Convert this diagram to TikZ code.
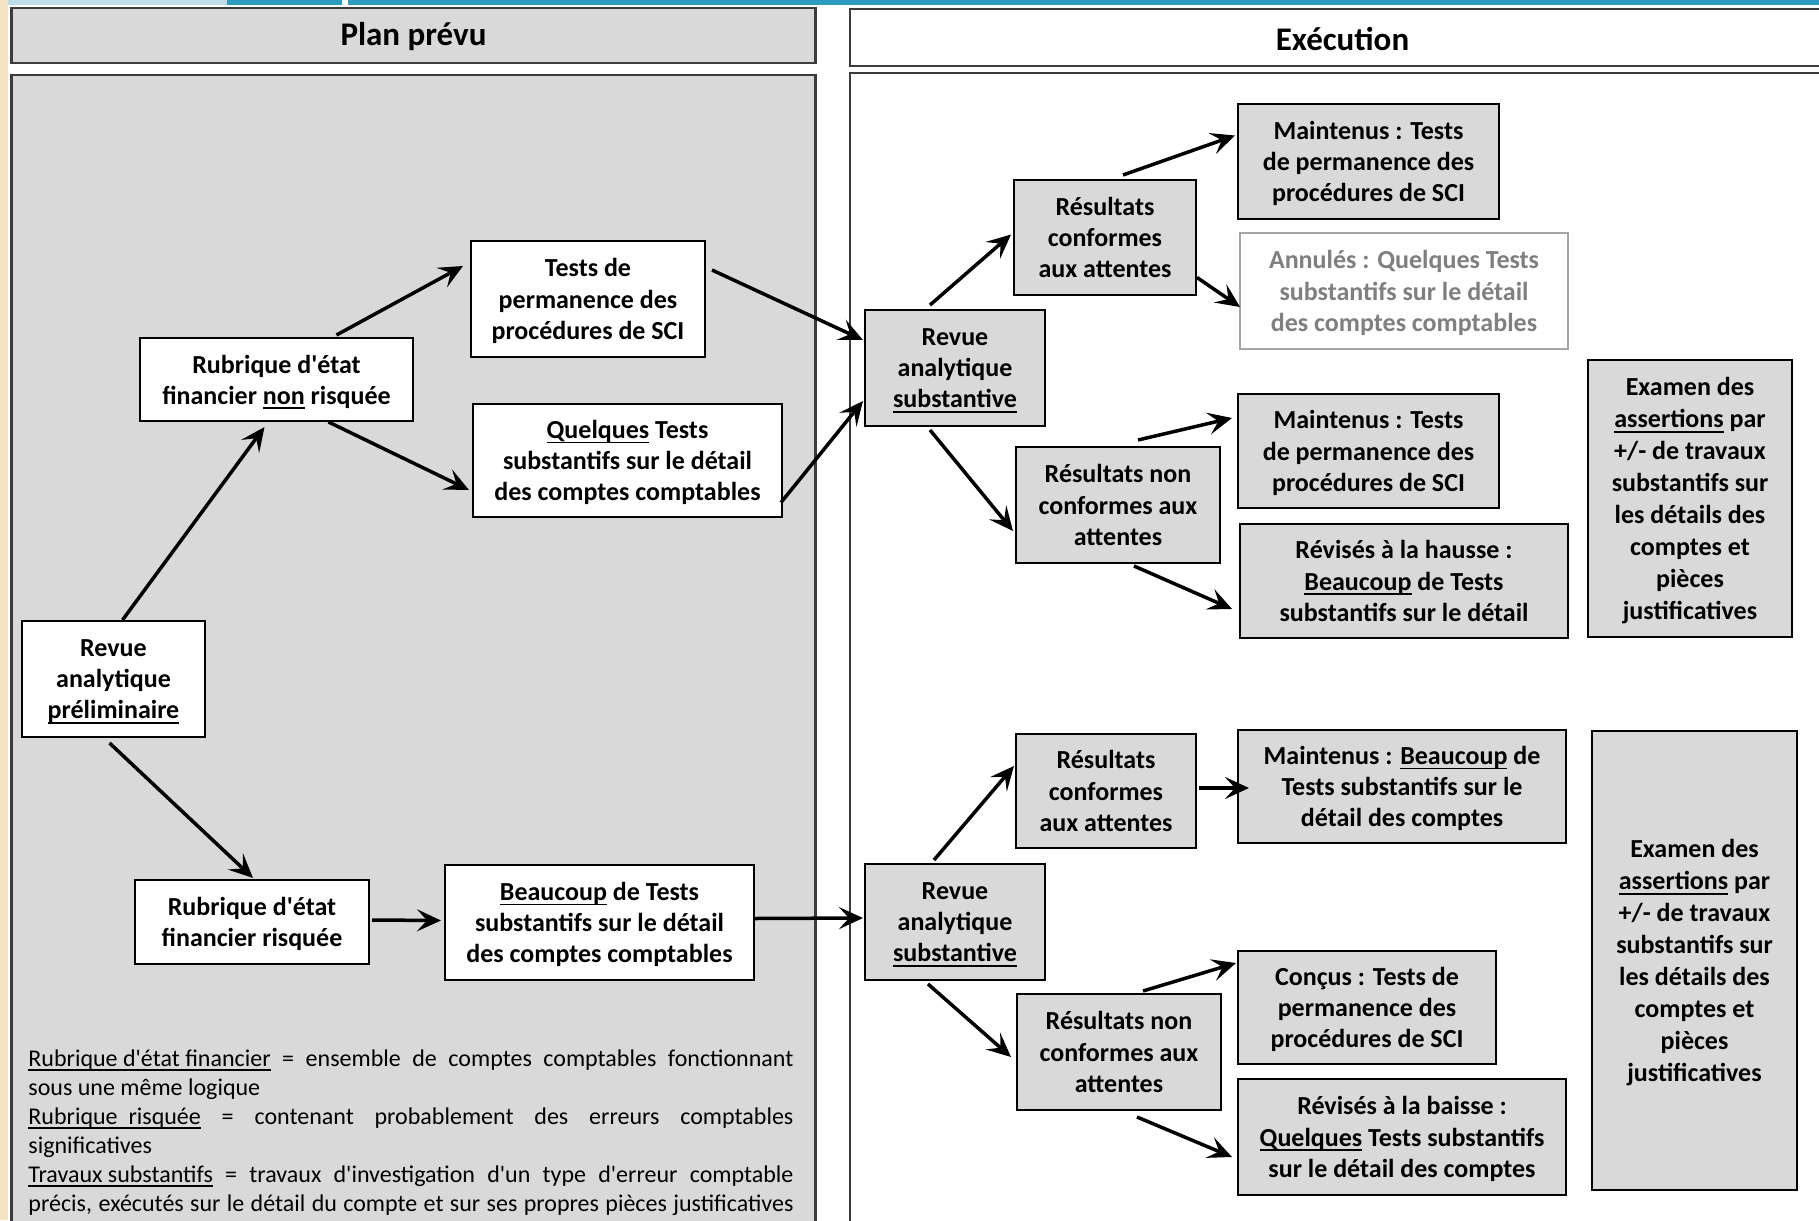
\documentclass[tikz,border=0pt]{standalone}
\usepackage{fontspec}
\setmainfont{Carlito}
\usetikzlibrary{arrows.meta,calc}

\definecolor{boxgrey}{HTML}{D9D9D9}
\definecolor{edgegrey}{HTML}{3C3C3C}
\definecolor{bannerteal}{HTML}{2E9CBF}
\definecolor{bannerblue}{HTML}{BFDCEB}
\definecolor{stripbeige}{HTML}{F3E5C4}
\definecolor{mutedgrey}{HTML}{7F7F7F}
\definecolor{mutededge}{HTML}{A6A6A6}

\newcommand{\apo}{\textquotesingle}
% underline drawn as a rule at a fixed depth below the baseline
\newcommand{\undl}[1]{\leavevmode\setbox0=\hbox{#1}\rlap{\vrule height -1.6pt depth 2.5pt width \wd0}\box0\relax}

\tikzset{
  sz/.style 2 args={minimum width=#1*0.5pt, minimum height=#2*0.5pt},
  box/.style={draw=black, line width=1pt, fill=white, align=center,
    inner sep=0pt, text depth=0pt, font=\fontsize{13}{15.6}\selectfont\bfseries},
  gbox/.style={box, fill=boxgrey},
  tallbox/.style={gbox, font=\fontsize{13}{16}\selectfont\bfseries},
  ghost/.style={box, draw=mutededge, text=mutedgrey},
  panel/.style={draw=edgegrey, line width=1.4pt, inner sep=0pt},
  header/.style={panel, font=\fontsize{16.5}{20}\selectfont\bfseries},
  conn/.style={line width=1.75pt, -{Stealth[length=12pt, width=11pt, inset=5pt]}},
  legend/.style={anchor=north west, inner sep=0pt, text width=382.5pt,
    align=justify, font=\fontsize{12}{14.5}\selectfont},
}

\begin{document}
\begin{tikzpicture}[x=0.5pt, y=-0.5pt]
\useasboundingbox (0,0) rectangle (1819,1220);
\clip (0,0) rectangle (1819,1220);

% page decorations along the top and left edges
\fill[white] (0,0) rectangle (1819,1220);
\fill[bannerblue] (0,0) rectangle (227,5);
\fill[bannerteal] (227,0) rectangle (342,5);
\fill[bannerteal] (348,0) rectangle (1819,5);
\fill[stripbeige] (0,0) rectangle (8,1220);

% column headers and panels
\node[header, fill=boxgrey, sz={804}{55}] (hplan) at (413.5,35.5) {\rule{0pt}{12.5pt}Plan prévu};
\node[header, fill=white, sz={985}{57}] (hexec) at (1342.5,37.5) {\rule{0pt}{13pt}Exécution};
\node[panel, fill=boxgrey, sz={804}{1180}] (pplan) at (413.5,665) {};
\node[panel, fill=white, sz={985}{1180}] (pexec) at (1342.5,663) {};

% planned approach
\node[box, sz={183}{116}] (rap) at (113.5,679) {Revue\\analytique\\\undl{préliminaire}};
\node[box, sz={273}{83}] (rnr) at (276.5,379.5) {Rubrique d\apo état\\financier \undl{non} risquée};
\node[box, sz={234}{116}] (tp) at (588,299) {Tests de\\permanence des\\procédures de SCI};
\node[box, sz={309}{113}] (ql) at (627.5,460.5) {\undl{Quelques} Tests\\substantifs sur le détail\\des comptes comptables};
\node[box, sz={234}{84}] (rr) at (252,922) {Rubrique d\apo état\\financier risquée};
\node[box, sz={309}{115}] (bc) at (599.5,922.5) {\undl{Beaucoup} de Tests\\substantifs sur le détail\\des comptes comptables};

% execution, upper branch
\node[gbox, sz={180}{116}] (ras1) at (955,368) {Revue\\analytique\\\undl{substantive}};
\node[gbox, sz={182}{115}] (rc1) at (1105,237.5) {Résultats\\conformes\\aux attentes};
\node[gbox, sz={261}{115}] (m1) at (1368.5,161.5) {Maintenus : Tests\\de permanence des\\procédures de SCI};
\node[ghost, sz={328}{116}] (an) at (1404,291) {Annulés : Quelques Tests\\substantifs sur le détail\\des comptes comptables};
\node[gbox, sz={204}{116}] (rnc1) at (1118,505) {Résultats non\\conformes aux\\attentes};
\node[gbox, sz={261}{114}] (m2) at (1368.5,451) {Maintenus : Tests\\de permanence des\\procédures de SCI};
\node[gbox, sz={328}{114}] (rh) at (1404,581) {Révisés à la hausse :\\\undl{Beaucoup} de Tests\\substantifs sur le détail};
\node[tallbox, sz={204}{277}] (ex1) at (1690,498.5) {Examen des\\\undl{assertions} par\\+/- de travaux\\substantifs sur\\les détails des\\comptes et\\pièces\\justificatives};

% execution, lower branch
\node[gbox, sz={180}{116}] (ras2) at (955,922) {Revue\\analytique\\\undl{substantive}};
\node[gbox, sz={180}{114}] (rc2) at (1106,791) {Résultats\\conformes\\aux attentes};
\node[gbox, sz={328}{113}] (mb) at (1402,786.5) {Maintenus : \undl{Beaucoup} de\\Tests substantifs sur le\\détail des comptes};
\node[gbox, sz={204}{116}] (rnc2) at (1119,1052) {Résultats non\\conformes aux\\attentes};
\node[gbox, sz={258}{113}] (co) at (1367,1007.5) {Conçus : Tests de\\permanence des\\procédures de SCI};
\node[gbox, sz={328}{116}] (rb) at (1402,1137) {Révisés à la baisse :\\\undl{Quelques} Tests substantifs\\sur le détail des comptes};
\node[tallbox, sz={205}{459}] (ex2) at (1694.5,960.5) {Examen des\\\undl{assertions} par\\+/- de travaux\\substantifs sur\\les détails des\\comptes et\\pièces\\justificatives};

% glossary
\node[legend] (gloss) at (28,1049) {%
\undl{Rubrique d\apo état financier} = ensemble de comptes comptables fonctionnant\linebreak
sous une même logique\par
\undl{Rubrique\ \ risquée} = contenant probablement des erreurs comptables\linebreak
significatives\par
\undl{Travaux substantifs} = travaux d\apo investigation d\apo un type d\apo erreur comptable\linebreak
précis, exécutés sur le détail du compte et sur ses propres pièces justificatives\parfillskip=0pt\par};

% connectors, planned approach
\draw[conn] ($(rap.north)+(9,0)$) -- ($(rnr.south)+(-12,5)$);
\draw[conn] ($(rnr.north)+(60,-2)$) -- ($(tp.west)+(-7,-33)$);
\draw[conn] ($(rnr.south)+(52,0)$) -- ($(ql.west)+(-3,29.5)$);
\draw[conn] ($(tp.east)+(6,-29)$) -- ($(ras1.west)+(-1,-28)$);
\draw[conn] ($(ql.east)+(-2,42)$) -- ($(ras1.west)+(-1,33)$);
\draw[conn] ($(rap.south)+(-4,5)$) -- ($(rr.north)+(1,-1)$);
\draw[conn] ($(rr.east)+(2,-2)$) -- ($(bc.west)+(-3,-2)$);
\draw[conn] ($(bc.east)+(0,-4)$) -- ($(ras2.west)+(-1,-4)$);

% connectors, execution upper branch
\draw[conn] ($(ras1.north)+(-25,-4)$) -- ($(rc1.west)+(-2,-3)$);
\draw[conn] ($(rc1.north)+(18,-4)$) -- ($(m1.west)+(-2,-26)$);
\draw[conn] ($(rc1.east)+(0,40)$) -- ($(an.west)+(1,16)$);
\draw[conn] ($(ras1.south)+(-25,3)$) -- ($(rnc1.west)+(-2,26)$);
\draw[conn] ($(rnc1.north)+(20,-6)$) -- ($(m2.west)+(-5,-33)$);
\draw[conn] ($(rnc1.south)+(16,2)$) -- ($(rh.west)+(-7,28)$);

% connectors, execution lower branch
\draw[conn] ($(ras2.north)+(-21,-3)$) -- ($(rc2.west)+(-1,-25)$);
\draw[conn] ($(rc2.east)+(2,-3)$) -- ($(mb.west)+(12,1.5)$);
\draw[conn] ($(ras2.south)+(-27,3)$) -- ($(rnc2.west)+(-5,5)$);
\draw[conn] ($(rnc2.north)+(24,-2)$) -- ($(co.west)+(-1,-44.5)$);
\draw[conn] ($(rnc2.south)+(18,6)$) -- ($(rb.west)+(-5,20)$);
\end{tikzpicture}
\end{document}
